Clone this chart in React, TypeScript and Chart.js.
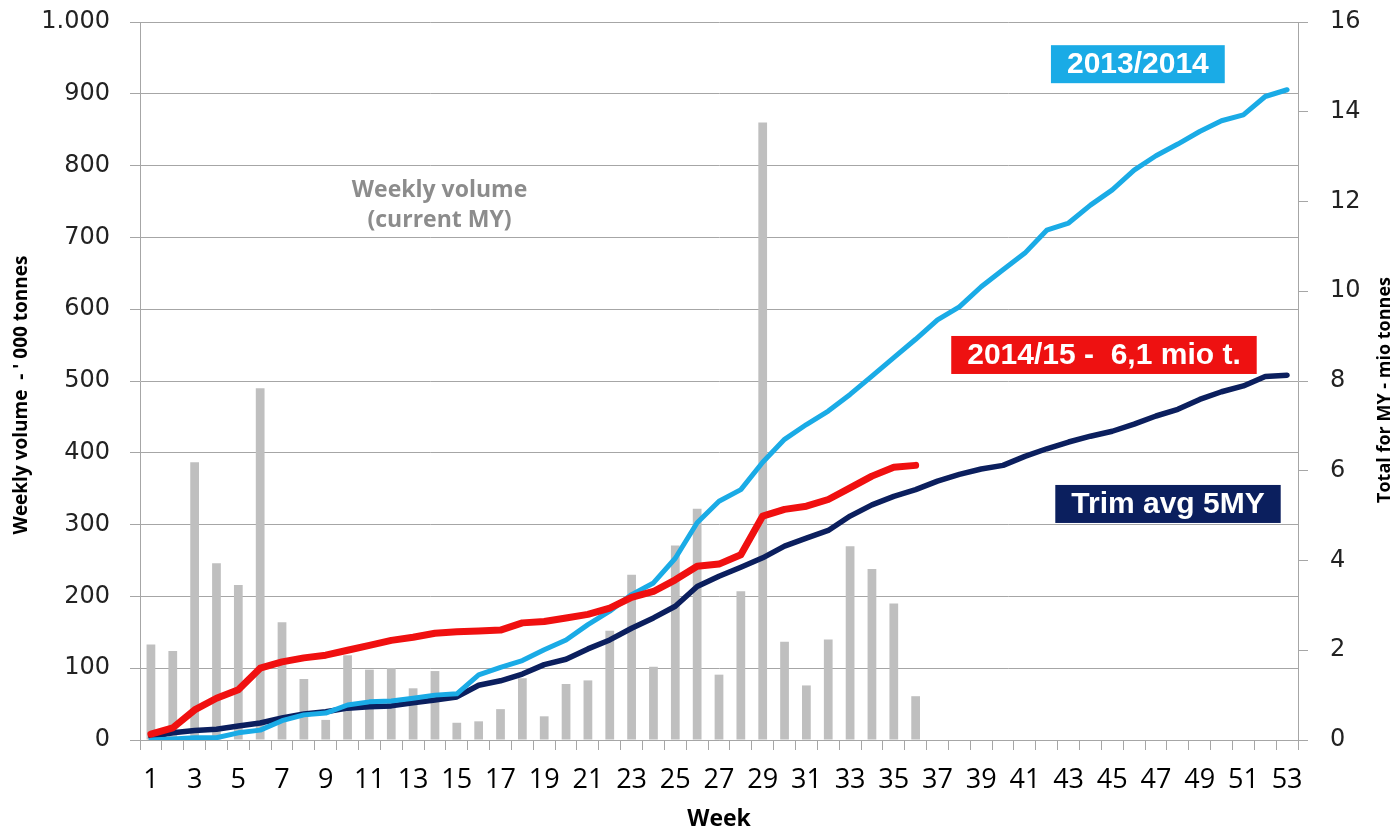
import React, { useEffect, useRef } from 'react';
import { Chart, registerables } from 'chart.js';

Chart.register(...registerables);

const weekLabels = [
  '1','2','3','4','5','6','7','8','9','10','11','12','13','14','15','16','17','18','19','20',
  '21','22','23','24','25','26','27','28','29','30','31','32','33','34','35','36','37','38','39','40',
  '41','42','43','44','45','46','47','48','49','50','51','52','53',
];

// Weekly volume, current MY ('000 tonnes, left axis)
const weeklyVolume = [
  133, 124, 387, 246, 216, 490, 164, 85, 28, 118,
  98, 100, 72, 96, 24, 26, 43, 86, 33, 78,
  83, 152, 230, 102, 271, 322, 91, 207, 860, 137,
  76, 140, 270, 238, 190, 61,
];

// Cumulative totals (mio tonnes, right axis)
const total2014_15 = [
  0.13, 0.27, 0.67, 0.93, 1.12, 1.6, 1.74, 1.83, 1.89, 2.0,
  2.11, 2.22, 2.29, 2.38, 2.41, 2.43, 2.45, 2.61, 2.64, 2.72,
  2.8, 2.94, 3.18, 3.31, 3.57, 3.87, 3.92, 4.13, 4.99, 5.14,
  5.21, 5.36, 5.62, 5.88, 6.08, 6.12,
];

const total2013_14 = [
  0, 0.02, 0.05, 0.05, 0.16, 0.22, 0.43, 0.56, 0.6, 0.78,
  0.85, 0.87, 0.93, 1.0, 1.03, 1.45, 1.62, 1.77, 2.01, 2.23,
  2.57, 2.87, 3.24, 3.5, 4.05, 4.84, 5.32, 5.58, 6.19, 6.7,
  7.03, 7.33, 7.7, 8.11, 8.52, 8.93, 9.36, 9.65, 10.1, 10.48,
  10.85, 11.36, 11.52, 11.92, 12.26, 12.7, 13.02, 13.28, 13.56, 13.8,
  13.93, 14.34, 14.49,
];

const trimAvg5MY = [
  0.07, 0.16, 0.21, 0.24, 0.31, 0.38, 0.49, 0.58, 0.63, 0.71,
  0.74, 0.76, 0.83, 0.89, 0.96, 1.22, 1.32, 1.47, 1.68, 1.8,
  2.03, 2.23, 2.49, 2.72, 2.98, 3.42, 3.65, 3.85, 4.06, 4.32,
  4.5, 4.67, 4.99, 5.24, 5.43, 5.58, 5.77, 5.92, 6.04, 6.12,
  6.32, 6.49, 6.64, 6.77, 6.88, 7.04, 7.22, 7.37, 7.59, 7.76,
  7.89, 8.1, 8.13,
];

// Boxed series labels: text, colour, anchor (week index, right-axis value)
const boxTexts = ['2013/2014', '2014/15 -  6,1 mio t.', 'Trim avg 5MY'];
const boxColors = ['#1aabe6', '#ee1111', '#0b1f5e'];
const boxWeekIdx = [45.17, 43.62, 46.55];
const boxRightVal = [15.06, 8.58, 5.26];

// Grey note (week index, left-axis value)
const noteLines = ['Weekly volume', '(current MY)'];
const noteWeekIdx = 13.21;
const noteLeftVals = [766, 723];

const leftTitle = "Weekly volume  - ' 000 tonnes";
const rightTitle = 'Total for MY - mio tonnes';

const GRID = '#a6a6a6';
const NARROW = '"Liberation Sans Narrow", "Open Sans", sans-serif';

const overlayPlugin = {
  id: 'overlay',
  afterDatasetsDraw(chart: any) {
    const { ctx, scales } = chart;
    const x = scales.x;
    const yL = scales.y;
    const yR = scales.yRight;
    ctx.save();
    // boxed labels
    ctx.font = 'bold 30px "Liberation Sans", Arial, sans-serif';
    ctx.textAlign = 'center';
    ctx.textBaseline = 'middle';
    boxTexts.forEach((t, i) => {
      const cx = x.getPixelForValue(boxWeekIdx[i]);
      const cy = yR.getPixelForValue(boxRightVal[i]);
      const w = ctx.measureText(t).width + 32;
      const h = 38;
      ctx.fillStyle = boxColors[i];
      ctx.fillRect(cx - w / 2, cy - h / 2, w, h);
      ctx.fillStyle = '#ffffff';
      ctx.fillText(t, cx, cy + 1);
    });
    // grey note
    ctx.font = 'bold 23px ' + NARROW;
    ctx.fillStyle = '#8c8c8c';
    noteLines.forEach((t, i) => {
      ctx.fillText(t, x.getPixelForValue(noteWeekIdx), yL.getPixelForValue(noteLeftVals[i]));
    });
    // axis titles (both read bottom-to-top)
    ctx.fillStyle = '#000000';
    ctx.font = 'bold 19px ' + NARROW;
    ctx.save();
    ctx.translate(22, 395);
    ctx.rotate(-Math.PI / 2);
    ctx.fillText(leftTitle, 0, 0);
    ctx.restore();
    ctx.font = 'bold 18px ' + NARROW;
    ctx.save();
    ctx.translate(chart.width - 13, 390);
    ctx.rotate(-Math.PI / 2);
    ctx.fillText(rightTitle, 0, 0);
    ctx.restore();
    ctx.restore();
  },
};

export default function App() {
  const ref = useRef<HTMLCanvasElement | null>(null);

  useEffect(() => {
    if (!ref.current) return;
    const chart = new Chart(ref.current, {
      type: 'bar',
      data: {
        labels: weekLabels,
        datasets: [
          {
            type: 'line',
            label: '2014/15',
            data: total2014_15,
            yAxisID: 'yRight',
            borderColor: '#f01010',
            borderWidth: 7,
            pointRadius: 0,
            tension: 0,
            borderCapStyle: 'round',
            borderJoinStyle: 'round',
            order: 1,
          } as any,
          {
            type: 'line',
            label: '2013/2014',
            data: total2013_14,
            yAxisID: 'yRight',
            borderColor: '#1aabe6',
            borderWidth: 5,
            pointRadius: 0,
            tension: 0,
            borderCapStyle: 'round',
            borderJoinStyle: 'round',
            order: 2,
          } as any,
          {
            type: 'line',
            label: 'Trim avg 5MY',
            data: trimAvg5MY,
            yAxisID: 'yRight',
            borderColor: '#0b1f5e',
            borderWidth: 5.5,
            pointRadius: 0,
            tension: 0,
            borderCapStyle: 'round',
            borderJoinStyle: 'round',
            order: 3,
          } as any,
          {
            type: 'bar',
            label: 'Weekly volume',
            data: weeklyVolume,
            yAxisID: 'y',
            backgroundColor: '#bfbfbf',
            barPercentage: 0.4,
            categoryPercentage: 1,
            order: 10,
          } as any,
        ],
      },
      options: {
        responsive: false,
        animation: false,
        layout: { padding: { top: 22, left: 0, right: 0, bottom: 0 } },
        plugins: { legend: { display: false }, tooltip: { enabled: false } },
        scales: {
          x: {
            type: 'category',
            offset: true,
            grid: { display: true, drawOnChartArea: false, drawTicks: true, tickLength: 10, color: GRID, offset: true },
            border: { display: true, color: GRID },
            ticks: {
              autoSkip: false,
              maxRotation: 0,
              minRotation: 0,
              padding: 14,
              color: '#000000',
              font: { family: NARROW, size: 27 },
              callback: (_v: any, i: number) => (i % 2 === 0 ? weekLabels[i] : ''),
            },
            title: {
              display: true,
              text: 'Week',
              color: '#000000',
              font: { family: NARROW, size: 23, weight: 'bold' },
              padding: { top: 0, bottom: 2 },
            },
            afterFit: (s: any) => { s.height = 95; s.paddingLeft = 0; s.paddingRight = 0; },
          },
          y: {
            type: 'linear',
            position: 'left',
            min: 0,
            max: 1000,
            grid: { color: GRID, tickLength: 10 },
            border: { display: true, color: GRID },
            ticks: {
              stepSize: 100,
              padding: 20,
              color: '#222222',
              font: { family: '"DejaVu Sans", sans-serif', size: 24 },
              callback: (v: any) => (v === 1000 ? '1.000' : String(v)),
            },
            afterFit: (s: any) => { s.width = 140; s.paddingTop = 0; s.paddingBottom = 0; },
          },
          yRight: {
            type: 'linear',
            position: 'right',
            min: 0,
            max: 16,
            grid: { drawOnChartArea: false, color: GRID, tickLength: 10 },
            border: { display: true, color: GRID },
            ticks: {
              stepSize: 2,
              padding: 22,
              color: '#222222',
              font: { family: '"DejaVu Sans", sans-serif', size: 24 },
            },
            afterFit: (s: any) => { s.width = 100; s.paddingTop = 0; s.paddingBottom = 0; },
          },
        },
      } as any,
      plugins: [overlayPlugin],
    });
    return () => chart.destroy();
  }, []);

  return (
    <div style={{ position: 'absolute', left: 0, top: 0, width: 1398, height: 835, background: '#ffffff' }}>
      <canvas ref={ref} width={1398} height={835} style={{ width: 1398, height: 835, display: 'block' }} />
    </div>
  );
}
